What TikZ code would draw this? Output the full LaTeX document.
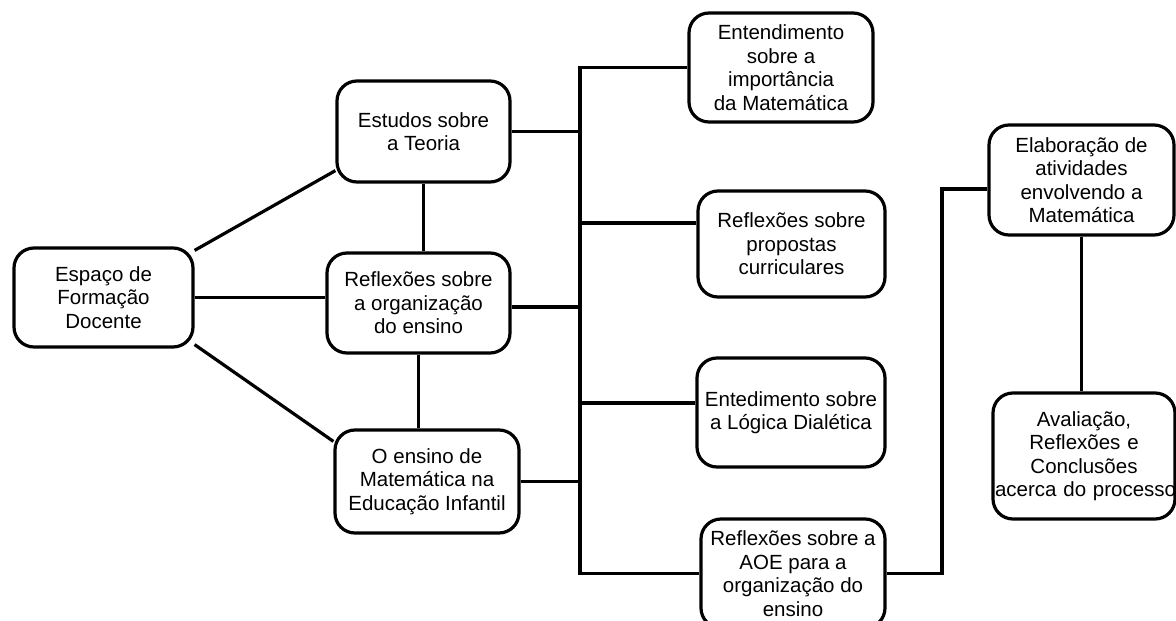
\documentclass[tikz,border=0pt]{standalone}
\usepackage{fontspec}
\setmainfont{Liberation Sans}
\begin{document}
\begin{tikzpicture}[x=1pt,y=-1pt,
  box/.style={draw=black,line width=3.2pt,rounded corners=20pt,align=center,
    inner sep=0pt,font=\fontsize{20.5}{23.5}\selectfont},
  link/.style={draw=black,line width=3.2pt}]
\useasboundingbox (0,0) rectangle (1176,621);
% nodes
\node[box,minimum width=179pt,minimum height=99pt] (A) at (103.5,297.5) {Espaço de\\Formação\\Docente};
\node[box,minimum width=173pt,minimum height=101pt] (B) at (423.5,131.5) {Estudos sobre\\a Teoria};
\node[box,minimum width=183pt,minimum height=100pt] (C) at (418.5,303) {Reflexões sobre\\a organização\\do ensino};
\node[box,minimum width=184pt,minimum height=103pt] (D) at (427,481.5) {O ensino de\\Matemática na\\Educação Infantil};
\node[box,minimum width=184pt,minimum height=109pt] (E) at (781,67.5) {Entendimento\\sobre a\\importância\\da Matemática};
\node[box,minimum width=187pt,minimum height=106pt] (F) at (791.5,244) {Reflexões sobre\\propostas\\curriculares};
\node[box,minimum width=188pt,minimum height=109pt] (G) at (791,412.5) {Entedimento sobre\\a Lógica Dialética};
\node[box,minimum width=184pt,minimum height=109pt] (H) at (793,573.5) {Reflexões sobre a\\AOE para a\\organização do\\ensino};
\node[box,minimum width=185pt,minimum height=110pt] (I) at (1081.5,180) {Elaboração de\\atividades\\envolvendo a\\Matemática};
\node[box,minimum width=182pt,minimum height=126pt,text width=178pt] (J) at (1084,456) {Avaliação,\\Reflexões e\\Conclusões\\\mbox{acerca do processo}};
% helper coordinates
\coordinate (bus) at (580,0);
\coordinate (elbow) at (942,0);
\coordinate (Fw) at ([yshift=21pt]F.west);
\coordinate (Gw) at ([yshift=9.5pt]G.west);
\coordinate (Iw) at ([yshift=-9pt]I.west);
% left connectors
\draw[link] ([yshift=-4pt]A.north east) -- ([yshift=13pt]B.south west);
\draw[link] (A.east) -- (A.east -| C.west);
\draw[link] ([yshift=4pt]A.south east) -- ([yshift=-13pt]D.north west);
\draw[link] (B.south) -- (B.south |- C.north);
\draw[link] (C.south) -- (C.south |- D.north);
% bus
\draw[link] (E.west) -- (E.west -| bus) -- (H.west -| bus) -- (H.west);
\draw[link] (B.east) -- (B.east -| bus);
\draw[link] ([yshift=-4pt]C.east) -- ([yshift=-4pt]C.east -| bus);
\draw[link] (D.east) -- (D.east -| bus);
\draw[link] (Fw -| bus) -- (Fw);
\draw[link] (Gw -| bus) -- (Gw);
% right side
\draw[link] (H.east) -- (H.east -| elbow) -- (elbow |- Iw) -- (Iw);
\draw[link] (I.south) -- (I.south |- J.north);
\end{tikzpicture}
\end{document}
